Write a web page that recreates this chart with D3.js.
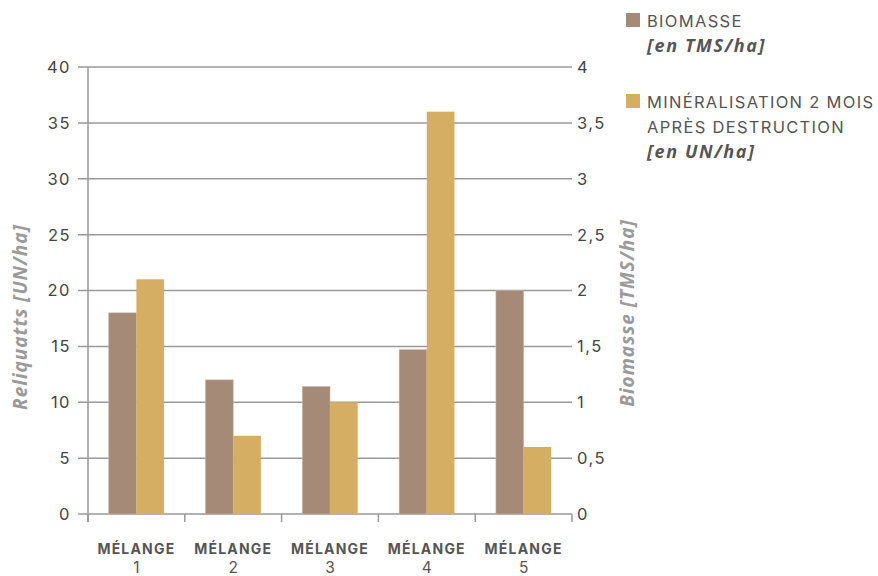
<!DOCTYPE html>
<html><head><meta charset="utf-8">
<script src="https://cdn.jsdelivr.net/npm/d3@7"></script>
<style>
body{margin:0;background:#fff;}
svg{display:block;}
</style></head>
<body>
<svg id="chart" width="878" height="576"></svg>
<script>
const categories = ["1","2","3","4","5"];
const biomasse = [1.8, 1.2, 1.14, 1.47, 2.0];        // TMS/ha (right axis)
const mineralisation = [21, 7, 10, 36, 6];          // UN/ha (left axis)
const leftTicks = [0,5,10,15,20,25,30,35,40];
const rightTicks = [0,0.5,1,1.5,2,2.5,3,3.5,4];
const seriesNames = ["bio","min"];
const colors = {bio:"#a48a77", min:"#d5ad63"};

const svg = d3.select("#chart");
const fontMain = "Inter, 'Noto Sans', sans-serif";
const fontIt = "'Open Sans', 'Noto Sans', sans-serif";

const x0 = d3.scaleBand().domain(categories).range([88,572]).paddingInner(0).paddingOuter(0);
const x1 = d3.scaleBand().domain(seriesNames).range([0,x0.bandwidth()]).paddingInner(0).paddingOuter(0.75);
const yL = d3.scaleLinear().domain([0,40]).range([514,67]);
const yR = d3.scaleLinear().domain([0,4]).range([514,67]);

// gridlines
svg.append("g").selectAll("line").data(leftTicks).join("line")
  .attr("x1",78).attr("x2",572).attr("y1",d=>yL(d)).attr("y2",d=>yL(d))
  .attr("stroke","#999").attr("stroke-width",1.5);

// left axis line
svg.append("line").attr("x1",88).attr("x2",88).attr("y1",yL(40)).attr("y2",522)
  .attr("stroke","#999").attr("stroke-width",1.5);

// bottom ticks
const bounds = categories.map(c=>x0(c)).concat([572]);
svg.append("g").selectAll("line").data(bounds).join("line")
  .attr("x1",d=>d).attr("x2",d=>d).attr("y1",514).attr("y2",522)
  .attr("stroke","#999").attr("stroke-width",1.5);

// bars
const g = svg.append("g");
categories.forEach((c,i)=>{
  g.append("rect").attr("x",x0(c)+x1("bio")).attr("width",x1.bandwidth())
    .attr("y",yR(biomasse[i])).attr("height",yR(0)-yR(biomasse[i]))
    .attr("fill",colors.bio).attr("stroke","#c7b3a6").attr("stroke-width",0.6);
  g.append("rect").attr("x",x0(c)+x1("min")).attr("width",x1.bandwidth())
    .attr("y",yL(mineralisation[i])).attr("height",yL(0)-yL(mineralisation[i]))
    .attr("fill",colors.min);
});

// left tick labels
svg.append("g").selectAll("text").data(leftTicks).join("text")
  .attr("x",71).attr("y",d=>yL(d)).attr("dy","0.36em").attr("text-anchor","end")
  .attr("font-family",fontMain).attr("font-size",16.5).attr("letter-spacing",1.5).attr("fill","#444")
  .text(d=>d);
// right tick labels
svg.append("g").selectAll("text").data(rightTicks).join("text")
  .attr("x",577).attr("y",d=>yR(d)).attr("dy","0.36em").attr("text-anchor","start")
  .attr("font-family",fontMain).attr("font-size",16.5).attr("letter-spacing",1.5).attr("fill","#444")
  .text(d=>String(d).replace(".",","));

// x labels
const xl = svg.append("g");
categories.forEach(c=>{
  const cx = x0(c)+x0.bandwidth()/2;
  xl.append("text").attr("x",cx).attr("y",554).attr("text-anchor","middle")
    .attr("font-family",fontMain).attr("font-weight",700).attr("font-size",14).attr("letter-spacing",1.2).attr("fill","#555")
    .text("MÉLANGE");
  xl.append("text").attr("x",cx).attr("y",573).attr("text-anchor","middle")
    .attr("font-family",fontMain).attr("font-size",15.5).attr("fill","#555")
    .text(c);
});

// axis titles
svg.append("text").attr("transform","translate(27,317) rotate(-90)").attr("text-anchor","middle")
  .attr("font-family",fontIt).attr("font-style","italic").attr("font-weight",700)
  .attr("font-size",19).attr("letter-spacing",1).attr("fill","#9a9a9a").text("Reliquatts [UN/ha]");
svg.append("text").attr("transform","translate(634,313) rotate(-90)").attr("text-anchor","middle")
  .attr("font-family",fontIt).attr("font-style","italic").attr("font-weight",700)
  .attr("font-size",19).attr("letter-spacing",1).attr("fill","#9a9a9a").text("Biomasse [TMS/ha]");

// legend
const lg = svg.append("g");
const legMain = sel => sel.attr("font-family",fontMain).attr("font-size",16.5).attr("letter-spacing",1.3).attr("fill","#555");
const legIt = sel => sel.attr("font-family",fontIt).attr("font-style","italic").attr("font-weight",700).attr("font-size",18).attr("letter-spacing",1.6).attr("fill","#555");
lg.append("rect").attr("x",626).attr("y",13).attr("width",14).attr("height",14).attr("fill",colors.bio);
lg.append("text").attr("x",647).attr("y",27).call(legMain).text("BIOMASSE");
lg.append("text").attr("x",647).attr("y",52).call(legIt).text("[en TMS/ha]");
lg.append("rect").attr("x",626).attr("y",94).attr("width",14).attr("height",14).attr("fill",colors.min);
lg.append("text").attr("x",647).attr("y",108).call(legMain).text("MINÉRALISATION 2 MOIS");
lg.append("text").attr("x",647).attr("y",133).call(legMain).text("APRÈS DESTRUCTION");
lg.append("text").attr("x",647).attr("y",158).call(legIt).text("[en UN/ha]");
</script>
</body></html>
